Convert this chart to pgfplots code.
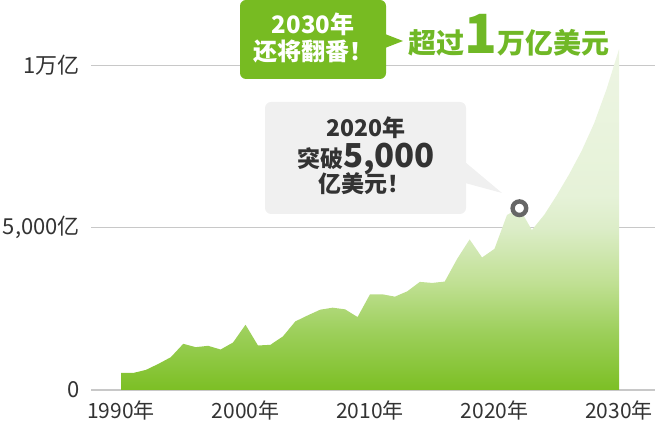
\documentclass[border=0pt]{standalone}
\usepackage{fontspec}
\setmainfont{Noto Sans CJK SC}
\usepackage{pgfplots}
\pgfplotsset{compat=1.18}
\definecolor{gbox}{RGB}{119,187,34}
\definecolor{gtext}{RGB}{112,184,38}
\definecolor{tickgray}{RGB}{51,51,51}
\definecolor{gridgray}{RGB}{200,200,200}
\definecolor{callgray}{RGB}{240,240,240}
\definecolor{ringgray}{RGB}{102,102,102}
\definecolor{s0}{RGB}{124,191,36}
\definecolor{s1}{RGB}{156,207,90}
\definecolor{s2}{RGB}{192,224,147}
\definecolor{s3}{RGB}{220,237,200}
\definecolor{s4}{RGB}{230,242,216}
\definecolor{s5}{RGB}{237,245,227}
\pgfdeclareverticalshading{areashade}{100bp}{color(0bp)=(s0); color(25bp)=(s0); color(33.4bp)=(s1); color(40.7bp)=(s2); color(48.8bp)=(s3); color(53.6bp)=(s4); color(75bp)=(s5); color(100bp)=(s5)}
\begin{document}
\begin{tikzpicture}
\path[use as bounding box] (0pt,0pt) rectangle (655pt,422pt);
\begin{axis}[
  at={(91pt,32pt)}, anchor=south west,
  scale only axis, width=564pt, height=390pt,
  xmin=1987.59, xmax=2032.89, ymin=0, ymax=12015,
  axis line style={draw=none}, tick style={draw=none}, major tick length=0pt,
  xtick={1990,2000,2010,2020,2030},
  xticklabels={1990年,2000年,2010年,2020年,2030年},
  ytick={0,5000,10000},
  yticklabels={0,{5,000亿},{1万亿}},
  ymajorgrids, grid style={gridgray, line width=1.3pt},
  xticklabel style={font=\fontsize{21}{24}\selectfont, text=tickgray, anchor=center, yshift=-20pt},
  yticklabel style={font=\fontsize{22}{24}\selectfont, text=tickgray, anchor=east, inner sep=0pt, xshift=-11pt},
]
\addplot[draw=none, shade, shading=areashade] coordinates {
(1990,526) (1991,526) (1992,619) (1993,804) (1994,1010) (1995,1423)
(1996,1320) (1997,1361) (1998,1247) (1999,1464) (2000,2010) (2001,1371)
(2002,1392) (2003,1649) (2004,2113) (2005,2299) (2006,2474) (2007,2536)
(2008,2485) (2009,2247) (2010,2948) (2011,2948) (2012,2876) (2013,3041)
(2014,3330) (2015,3299) (2016,3340) (2017,4041) (2018,4639) (2019,4082)
(2020,4350) (2021,5392) (2022,5600) (2023,4928) (2024,5400) (2025,6000)
(2026,6650) (2027,7370) (2028,8216) (2029,9270) (2030,10500)
} \closedcycle;
\addplot[only marks, mark=*, mark size=6.8pt, mark options={draw=ringgray, fill=white, line width=4.4pt}] coordinates {(2022,5600)};
\end{axis}
% green callout
\fill[gbox, rounded corners=6pt] (240pt,343pt) rectangle (386pt,422pt);
\fill[gbox] (385pt,388pt) -- (403pt,381pt) -- (385pt,374pt) -- cycle;
\node[anchor=base, inner sep=0pt, text=white, font=\fontsize{24}{24}\selectfont\bfseries] at (313pt,388.7pt) {2030年};
\node[anchor=base, inner sep=0pt, text=white, font=\fontsize{24}{24}\selectfont\bfseries] at (313pt,361pt) {还将翻番！};
\node[anchor=base west, inner sep=0pt, text=gtext, font=\fontsize{28}{28}\selectfont\bfseries] at (408pt,368pt) {超过{\fontsize{54}{54}\selectfont 1}万亿美元};
% grey callout
\fill[callgray, rounded corners=6pt] (265pt,208pt) rectangle (466pt,320pt);
\fill[callgray] (465pt,260pt) -- (502pt,229pt) -- (465pt,239pt) -- cycle;
\node[anchor=base, inner sep=0pt, text=tickgray, font=\fontsize{23}{23}\selectfont\bfseries] at (366pt,285.3pt) {2020年};
\node[anchor=base, inner sep=0pt, text=tickgray, font=\bfseries] at (366pt,254.3pt) {{\fontsize{23}{23}\selectfont 突破}{\fontsize{33}{33}\selectfont 5,000}};
\node[anchor=base, inner sep=0pt, text=tickgray, font=\fontsize{23}{23}\selectfont\bfseries] at (364pt,229pt) {亿美元！};
\end{tikzpicture}
\end{document}
